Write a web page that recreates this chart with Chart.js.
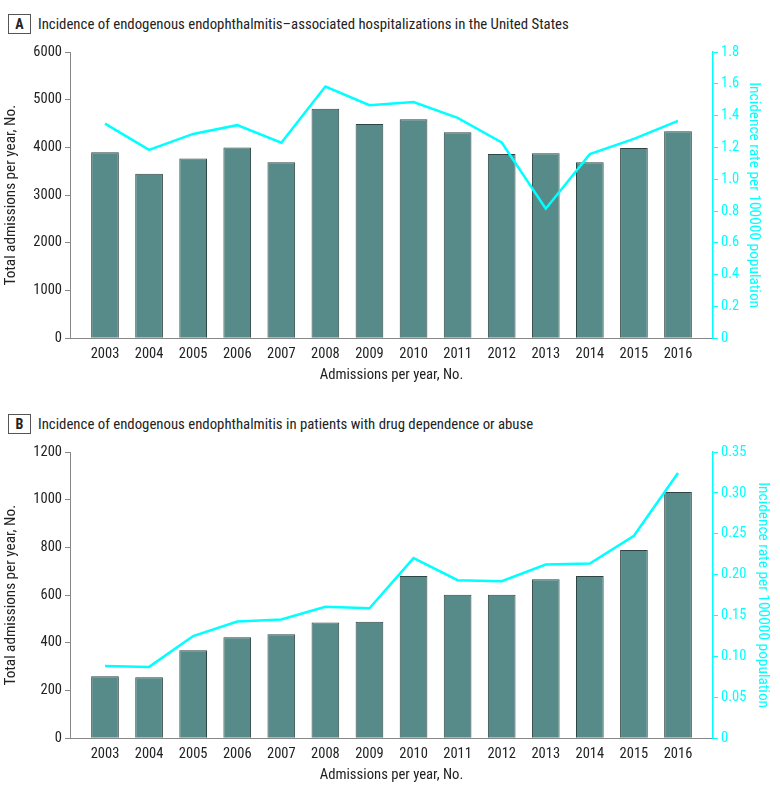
<!DOCTYPE html>
<html>
<head>
<meta charset="utf-8">
<script src="https://cdn.jsdelivr.net/npm/chart.js@4/dist/chart.umd.min.js"></script>
<style>
  html, body { margin: 0; padding: 0; background: #fff; }
  #wrap { position: relative; width: 780px; height: 793px; overflow: hidden; font-family: 'Roboto Condensed', sans-serif; color: #222; }
  canvas { position: absolute; left: 0; }
  .box { position: absolute; left: 8px; width: 21px; height: 18px; border: 1px solid #555; font-weight: bold; font-size: 14px; line-height: 18px; text-align: center; }
  .ttl { position: absolute; left: 38px; font-size: 14.8px; line-height: 20px; white-space: nowrap; }
</style>
</head>
<body>
<div id="wrap">
  <div class="box" style="top:14px">A</div>
  <div class="ttl" style="top:14px">Incidence of endogenous endophthalmitis–associated hospitalizations in the United States</div>
  <canvas id="cA" width="780" height="350" style="top:40px"></canvas>
  <div class="box" style="top:414px">B</div>
  <div class="ttl" style="top:414px">Incidence of endogenous endophthalmitis in patients with drug dependence or abuse</div>
  <canvas id="cB" width="780" height="350" style="top:440px"></canvas>
</div>
<script>
// ---- data ----
const years = [2003, 2004, 2005, 2006, 2007, 2008, 2009, 2010, 2011, 2012, 2013, 2014, 2015, 2016];
const admissionsA = [3900, 3450, 3770, 4000, 3690, 4810, 4490, 4590, 4320, 3860, 3880, 3690, 3990, 4340];
const rateA = [1.35, 1.185, 1.285, 1.34, 1.23, 1.583, 1.466, 1.485, 1.386, 1.231, 0.815, 1.158, 1.254, 1.367];
const admissionsB = [260, 256, 369, 424, 436, 485, 489, 680, 602, 602, 667, 680, 789, 1032];
const rateB = [0.0885, 0.0873, 0.125, 0.1427, 0.1452, 0.1607, 0.159, 0.2203, 0.1933, 0.192, 0.2124, 0.2137, 0.2476, 0.3243];
const xTitle = 'Admissions per year, No.';
const yTitle = 'Total admissions per year, No.';
const y1Title = 'Incidence rate per 100000 population';

const FONT = 'Roboto Condensed';
const TEXT = '#222';
const AXIS = '#888';
const CYAN = '#00FFFF';
const BAR = '#578B89';
const BARB = '#2F4444';

function makeChart(id, bars, rates, yMax, yStep, y1Max, y1Step, y1Dec, y1Pad) {
  return new Chart(document.getElementById(id), {
    data: {
      datasets: [
        { type: 'line', data: years.map((x, i) => ({ x, y: rates[i] })), yAxisID: 'y1', borderColor: CYAN, borderWidth: 2.5, pointRadius: 0, tension: 0, order: 0 },
        { type: 'bar', data: years.map((x, i) => ({ x, y: bars[i] })), yAxisID: 'y', backgroundColor: BAR, borderColor: BARB, borderWidth: 1, barPercentage: 0.628, categoryPercentage: 1, order: 1 }
      ]
    },
    options: {
      responsive: false, animation: false,
      layout: { padding: { top: 12, left: 0, right: 0, bottom: 0 } },
      plugins: { legend: { display: false }, tooltip: { enabled: false } },
      scales: {
        x: {
          type: 'linear', min: 2002.206, max: 2016.794, offset: false,
          afterBuildTicks: s => { s.ticks = years.map(v => ({ value: v })); },
          afterFit: s => { s.height = 51.7; },
          grid: { drawOnChartArea: false, drawTicks: false },
          border: { color: AXIS, width: 1 },
          ticks: { padding: 7, color: TEXT, font: { family: FONT, size: 14.5 }, callback: v => String(v), maxRotation: 0, autoSkip: false },
          title: { display: true, text: xTitle, color: TEXT, font: { family: FONT, size: 14.7 }, padding: { top: 0, bottom: 6 } }
        },
        y: {
          position: 'left', min: 0, max: yMax,
          afterFit: s => { s.width = 70; },
          grid: { drawOnChartArea: false, drawTicks: true, tickLength: 5, color: AXIS },
          border: { color: AXIS, width: 1 },
          ticks: { stepSize: yStep, padding: 3, color: TEXT, font: { family: FONT, size: 14.5 }, callback: v => String(Math.round(v)) },
          title: { display: true, text: yTitle, color: TEXT, font: { family: FONT, size: 15.2 }, padding: { top: 2, bottom: 0 } }
        },
        y1: {
          position: 'right', min: 0, max: y1Max,
          afterFit: s => { s.width = 67; },
          grid: { drawOnChartArea: false, drawTicks: true, tickLength: 5, color: CYAN },
          border: { color: CYAN, width: 1.5 },
          ticks: { stepSize: y1Step, padding: 3, color: CYAN, font: { family: FONT, size: 14.5 }, callback: v => (Math.abs(v) < 1e-9 ? '0' : Number(v).toFixed(y1Dec)) },
          title: { display: true, text: y1Title, color: CYAN, font: { family: FONT, size: 15.4 }, padding: { top: y1Pad, bottom: 0 } }
        }
      }
    }
  });
}

makeChart('cA', admissionsA, rateA, 6000, 1000, 1.8, 0.2, 1, 16.8);
makeChart('cB', admissionsB, rateB, 1200, 200, 0.35, 0.05, 2, 8.3);
</script>
</body>
</html>
